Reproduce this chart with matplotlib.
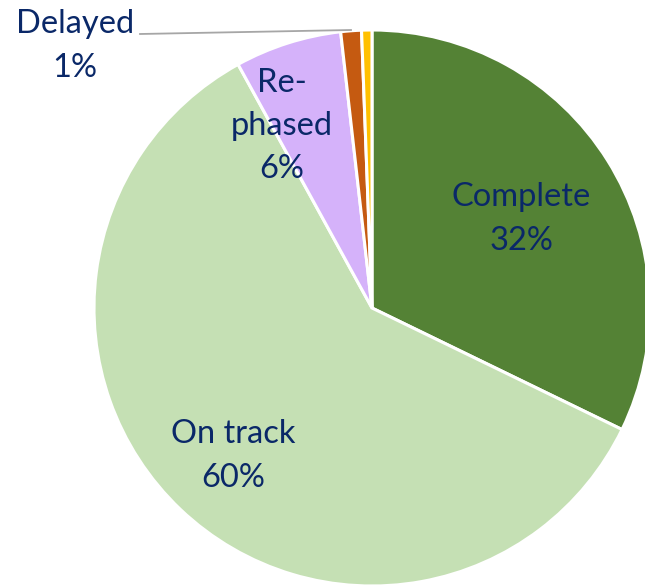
import matplotlib
matplotlib.use("Agg")
import matplotlib.pyplot as plt

labels = ["Complete", "On track", "Re-\nphased", "Delayed", "Other"]
values = [32.2, 59.8, 6.2, 1.2, 0.6]
pct_text = ["32%", "60%", "6%", "1%", ""]
colors = ["#548235", "#C5E0B4", "#D5B2FA", "#C55A11", "#FFC000"]

plt.rcParams['font.family'] = ['Lato', 'DejaVu Sans']
text_color = "#0A2868"

fig = plt.figure(figsize=(6.45, 5.86), dpi=100)
# pie centre at (372, 308) px, radius 278 px
ax = fig.add_axes([94 / 645, 0.0, 556 / 645, 556 / 586])

wedges, _ = ax.pie(values, colors=colors, startangle=90, counterclock=False,
                   radius=1.0, wedgeprops=dict(edgecolor='white', linewidth=2.2))
for w in wedges:
    w.set_clip_on(False)
ax.set_aspect('auto')
ax.set_xlim(-1, 1)
ax.set_ylim(-1, 1)
ax.axis('off')

def px(x, y):
    return ((x - 372) / 278, (308 - y) / 278)

fs = 23.5
ls = 1.55
ax.text(*px(521, 219), labels[0] + "\n" + pct_text[0], ha='center', va='center',
        fontsize=fs, color=text_color, linespacing=ls)
ax.text(*px(233, 456), labels[1] + "\n" + pct_text[1], ha='center', va='center',
        fontsize=fs, color=text_color, linespacing=ls)
ax.text(*px(282, 126), labels[2] + "\n" + pct_text[2], ha='center', va='center',
        fontsize=fs, color=text_color, linespacing=ls)
t = ax.text(*px(75, 46), labels[3] + "\n" + pct_text[3], ha='center', va='center',
            fontsize=fs, color=text_color, linespacing=ls)
t.set_clip_on(False)
ax.plot(*zip(px(140, 34), px(351, 30)), color="#A6A6A6", linewidth=1.3, clip_on=False)

fig.savefig("out.png", dpi=100)
